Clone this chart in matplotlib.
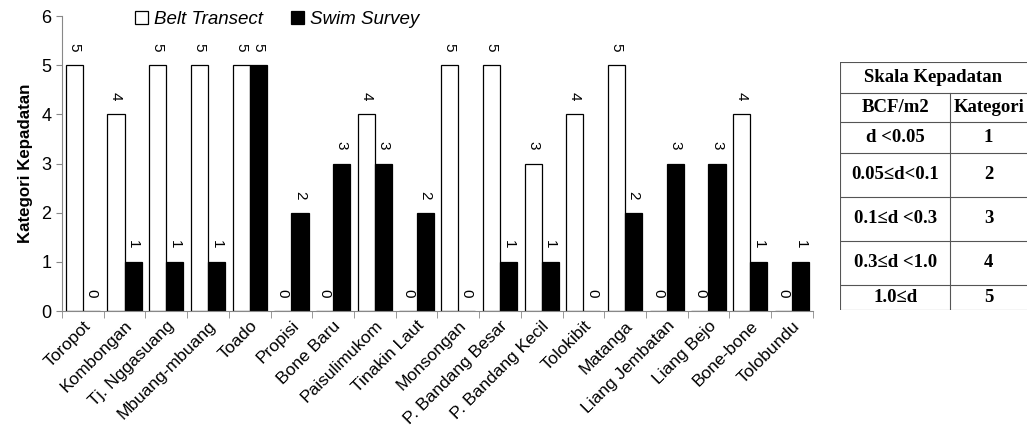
import numpy as np
import matplotlib
matplotlib.use("Agg")
import matplotlib.pyplot as plt
from matplotlib.lines import Line2D

plt.rcParams['font.family'] = ['Liberation Sans', 'DejaVu Sans']

sites = ['Toropot', 'Kombongan', 'Tj. Nggasuang', 'Mbuang-mbuang', 'Toado', 'Propisi',
         'Bone Baru', 'Paisulimukom', 'Tinakin Laut', 'Monsongan', 'P. Bandang Besar',
         'P. Bandang Kecil', 'Tolokibit', 'Matanga', 'Liang Jembatan', 'Liang Bejo',
         'Bone-bone', 'Tolobundu']
belt = [5, 4, 5, 5, 5, 0, 0, 4, 0, 5, 5, 3, 4, 5, 0, 0, 4, 0]
swim = [0, 1, 1, 1, 5, 2, 3, 3, 2, 0, 1, 1, 0, 2, 3, 3, 1, 1]

table_head = 'Skala Kepadatan'
table_cols = ['BCF/m2', 'Kategori']
table_ranges = ['d <0.05', '0.05\u2264d<0.1', '0.1\u2264d <0.3', '0.3\u2264d <1.0', '1.0\u2264d']
table_cats = ['1', '2', '3', '4', '5']

fig = plt.figure(figsize=(10.27, 4.37), dpi=100)
ax = fig.add_axes([0.0604, 0.288, 0.731, 0.675])

x = np.arange(len(sites))
w = 0.41
b1 = ax.bar(x - w / 2, belt, w, color='white', edgecolor='black', linewidth=0.9, label='Belt Transect')
b2 = ax.bar(x + w / 2, swim, w, color='black', edgecolor='black', linewidth=0.9, label='Swim Survey')

for bars in (b1, b2):
    for r in bars:
        ax.annotate(f'{int(r.get_height())}', (r.get_x() + r.get_width() / 2, r.get_height()),
                    xytext=(0, 13), textcoords='offset points', ha='center', va='center',
                    rotation=270, fontsize=11)

ax.set_xlim(-0.5, len(sites) - 0.5)
ax.set_ylim(0, 6)
ax.set_yticks(range(7))
ax.tick_params(axis='y', labelsize=13, color='#888888', length=4)
ax.set_xticks(x)
ax.set_xticklabels(sites, rotation=45, ha='right', rotation_mode='anchor', fontsize=12.5)
ax.tick_params(axis='x', length=0, pad=5)
ax.set_xticks(np.arange(-0.5, len(sites)), minor=True)
ax.tick_params(axis='x', which='minor', length=5, color='#888888')
for s in ['top', 'right']:
    ax.spines[s].set_visible(False)
for s in ['left', 'bottom']:
    ax.spines[s].set_color('#888888')
ax.set_ylabel('Kategori Kepadatan', fontsize=12.2, fontweight='bold', labelpad=6)

leg = ax.legend(loc='upper left', bbox_to_anchor=(0.075, 1.075), ncol=2, frameon=False,
                prop={'style': 'italic', 'size': 13.5}, handlelength=0.7, handleheight=0.7,
                handletextpad=0.3, columnspacing=1.5)

# density scale table
tx = fig.add_axes([0.818, 0.29, 0.182, 0.567])
tx.set_xlim(0, 1)
tx.set_ylim(0, 1)
tx.axis('off')
row_edges = [1.0, 0.878, 0.76, 0.635, 0.458, 0.28, 0.103, 0.0]
split = 0.59
lc = '#555555'
for yy in row_edges:
    tx.add_line(Line2D([0, 1], [yy, yy], color=lc, lw=0.8))
tx.add_line(Line2D([0, 0], [0, 1], color=lc, lw=0.8))
tx.add_line(Line2D([split, split], [0, row_edges[1]], color=lc, lw=0.8))
serif = {'family': 'Liberation Serif', 'weight': 'bold', 'size': 13.5}
tx.text(0.5, (row_edges[0] + row_edges[1]) / 2, table_head, ha='center', va='center', **serif)
tx.text(split / 2, (row_edges[1] + row_edges[2]) / 2, table_cols[0], ha='center', va='center', **serif)
tx.text((split + 1) / 2, (row_edges[1] + row_edges[2]) / 2, table_cols[1], ha='center', va='center', **serif)
for i, (rg, ct) in enumerate(zip(table_ranges, table_cats)):
    yc = (row_edges[i + 2] + row_edges[i + 3]) / 2
    tx.text(split / 2, yc, rg, ha='center', va='center', **serif)
    tx.text((split + 1) / 2, yc, ct, ha='center', va='center', **serif)

fig.savefig('out.png', dpi=100)
